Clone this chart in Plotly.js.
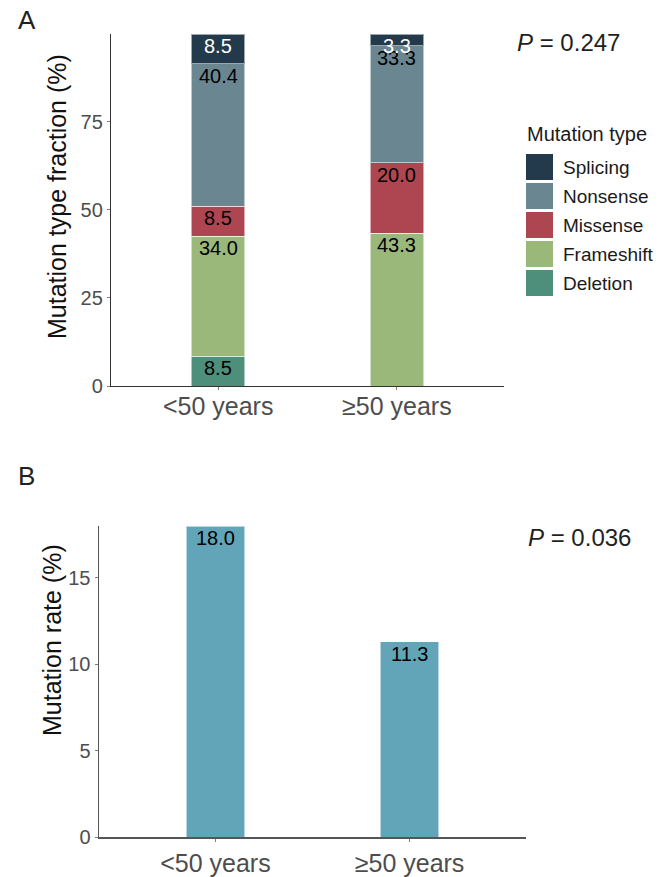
<!DOCTYPE html>
<html>
<head>
<meta charset="utf-8">
<script src="https://cdn.plot.ly/plotly-3.0.1.min.js"></script>
<style>html,body{margin:0;padding:0;background:#fff;}#chart{width:667px;height:877px;}</style>
</head>
<body>
<div id="chart"></div>
<script>
// ---- data ----
const categories = ['<50 years', '≥50 years'];
const mutationTypes = ['Deletion', 'Frameshift', 'Missense', 'Nonsense', 'Splicing'];
const deletion = [8.5, 0];
const frameshift = [34.0, 43.3];
const missense = [8.5, 20.0];
const nonsense = [40.4, 33.3];
const splicing = [8.5, 3.3];
const mutationRate = [18.0, 11.3];
const pValueA = '0.247';
const pValueB = '0.036';
const yTicksA = [0, 25, 50, 75];
const yTicksB = [0, 5, 10, 15];
const legendTitle = 'Mutation type';
const yTitleA = 'Mutation type fraction (%)';
const yTitleB = 'Mutation rate (%)';

// ---- styles ----
const W = 667, H = 877;
const colors = {Deletion: '#4e8f7b', Frameshift: '#9ab87a', Missense: '#ad4650', Nonsense: '#6a8791', Splicing: '#223a4b'};
const labelColors = {Deletion: '#000', Frameshift: '#000', Missense: '#000', Nonsense: '#000', Splicing: '#fff'};
const rateColor = '#62a5b8';
const FONT = 'Arial, "Liberation Sans", Helvetica, sans-serif';
const px = x => x / W;
const py = y => 1 - y / H;

const seriesA = [deletion, frameshift, missense, nonsense, splicing];
const traces = [];
const annotations = [];

mutationTypes.forEach((t, i) => {
  traces.push({
    type: 'bar', x: categories, y: seriesA[i], name: t, width: 0.3,
    xaxis: 'x', yaxis: 'y', showlegend: false, hoverinfo: 'x+y+name',
    marker: {color: colors[t], line: {color: 'rgba(255,255,255,0.55)', width: 1}}
  });
});

// stacked value labels
categories.forEach((c, ci) => {
  let cum = 0;
  mutationTypes.forEach((t, i) => {
    const v = seriesA[i][ci];
    cum += v;
    if (v > 0) {
      annotations.push({
        xref: 'x', yref: 'y', x: c, y: cum, yshift: -12, yanchor: 'middle', xanchor: 'center',
        text: v.toFixed(1), showarrow: false,
        font: {family: FONT, size: 20, color: labelColors[t]}
      });
    }
  });
});

traces.push({
  type: 'bar', x: categories, y: mutationRate, width: 0.3, xaxis: 'x2', yaxis: 'y2',
  showlegend: false, marker: {color: rateColor, line: {color: 'rgba(255,255,255,0.55)', width: 1}}
});
categories.forEach((c, ci) => {
  annotations.push({
    xref: 'x2', yref: 'y2', x: c, y: mutationRate[ci], yshift: -12, yanchor: 'middle',
    text: mutationRate[ci].toFixed(1), showarrow: false,
    font: {family: FONT, size: 20, color: '#000'}
  });
});

// titles, panel letters, p values
annotations.push(
  {xref: 'paper', yref: 'paper', x: px(57), y: py(197), text: yTitleA, textangle: -90, showarrow: false,
   xanchor: 'center', yanchor: 'middle', font: {family: FONT, size: 25, color: '#111'}},
  {xref: 'paper', yref: 'paper', x: px(52), y: py(640), text: yTitleB, textangle: -90, showarrow: false,
   xanchor: 'center', yanchor: 'middle', font: {family: FONT, size: 25, color: '#111'}},
  {xref: 'paper', yref: 'paper', x: px(16), y: py(20), text: 'A', showarrow: false,
   xanchor: 'left', yanchor: 'middle', font: {family: FONT, size: 26, color: '#231f20'}},
  {xref: 'paper', yref: 'paper', x: px(16), y: py(476), text: 'B', showarrow: false,
   xanchor: 'left', yanchor: 'middle', font: {family: FONT, size: 26, color: '#231f20'}},
  {xref: 'paper', yref: 'paper', x: px(515), y: py(43), text: '<i>P</i> = ' + pValueA, showarrow: false,
   xanchor: 'left', yanchor: 'middle', font: {family: FONT, size: 24, color: '#231f20'}},
  {xref: 'paper', yref: 'paper', x: px(526), y: py(537), text: '<i>P</i> = ' + pValueB, showarrow: false,
   xanchor: 'left', yanchor: 'middle', font: {family: FONT, size: 24, color: '#231f20'}},
  {xref: 'paper', yref: 'paper', x: px(525), y: py(134), text: legendTitle, showarrow: false,
   xanchor: 'left', yanchor: 'middle', font: {family: FONT, size: 20, color: '#1a1a1a'}}
);

// manual legend (reverse stacking order)
const shapes = [];
mutationTypes.slice().reverse().forEach((t, i) => {
  const top = 154 + 29 * i;
  shapes.push({type: 'rect', xref: 'paper', yref: 'paper', x0: px(526), x1: px(553), y0: py(top + 26), y1: py(top),
    fillcolor: colors[t], line: {width: 0}});
  annotations.push({xref: 'paper', yref: 'paper', x: px(561), y: py(top + 13), text: t, showarrow: false,
    xanchor: 'left', yanchor: 'middle', font: {family: FONT, size: 19, color: '#1a1a1a'}});
});

const xCommon = {
  type: 'category', range: [-0.6, 1.6], showline: true, linewidth: 1.2, ticks: 'outside', ticklen: 3,
  tickcolor: '#8c7a6b', tickfont: {family: FONT, size: 25, color: '#4d4d4d'}, showgrid: false, zeroline: false, fixedrange: true
};
const yCommon = {
  showline: true, linewidth: 1.2, ticks: 'outside', ticklen: 3, tickcolor: '#8c7a6b',
  tickfont: {family: FONT, size: 20, color: '#4d4d4d'}, showgrid: false, zeroline: false, fixedrange: true
};

const layout = {
  width: W, height: H, margin: {l: 0, r: 0, t: 0, b: 0},
  paper_bgcolor: '#fff', plot_bgcolor: '#fff', barmode: 'stack',
  font: {family: FONT},
  xaxis: Object.assign({}, xCommon, {domain: [px(111), px(504)], anchor: 'y', linecolor: '#333', ticklabelstandoff: -5}),
  yaxis: Object.assign({}, yCommon, {domain: [py(386), py(34)], anchor: 'x', range: [0, 99.9], tickvals: yTicksA, linecolor: '#333'}),
  xaxis2: Object.assign({}, xCommon, {domain: [px(99), px(526)], anchor: 'y2', linecolor: '#555', linewidth: 1.5}),
  yaxis2: Object.assign({}, yCommon, {domain: [py(837), py(526)], anchor: 'x2', range: [0, 18], tickvals: yTicksB, linecolor: '#555', linewidth: 1.5}),
  annotations: annotations, shapes: shapes, showlegend: false
};

Plotly.newPlot('chart', traces, layout, {displayModeBar: false, staticPlot: true});
</script>
</body>
</html>
